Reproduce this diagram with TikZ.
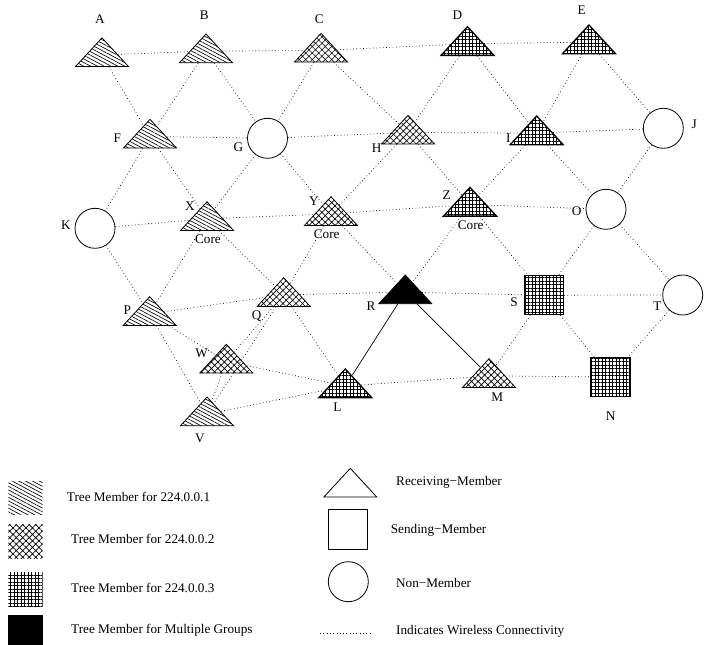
\documentclass[tikz,border=0pt]{standalone}
\usepackage{fontspec}
\setmainfont{Liberation Serif}
\usepackage{tikz}
\usetikzlibrary{shapes.geometric, patterns.meta}

\begin{document}
\begin{tikzpicture}[x=1pt, y=-1pt,
    every node/.style={font=\fontsize{13.2}{15}\selectfont},
    rcv/.style={draw, line width=0.8pt, isosceles triangle, isosceles triangle stretches,
      shape border rotate=90, minimum width=53pt, minimum height=28.7pt, inner sep=0pt, anchor=apex},
    snd/.style={draw, line width=0.8pt, rectangle, minimum size=39pt, inner sep=0pt},
    non/.style={draw, line width=0.8pt, circle, minimum size=40pt, inner sep=0pt},
    grp1/.style={pattern={Lines[angle=-28,distance=3.2pt,line width=0.65pt]}},
    grp2/.style={pattern={Hatch[angle=45,distance=4.6pt,line width=0.65pt]}},
    grp3/.style={pattern={Hatch[angle=0,distance=3.5pt,line width=0.75pt]}, line width=1.3pt},
    grpall/.style={fill=black},
    wl/.style={dash pattern=on 0.7pt off 2.6pt, line width=0.7pt},
    lbl/.style={inner sep=0pt}]
    \useasboundingbox (0,0) rectangle (713,645);

    % receiving members (apex given)
    \node[rcv, grp1] (A) at (102,37) {};
    \node[rcv, grp1] (B) at (206,33) {};
    \node[rcv, grp2] (C) at (321,32.5) {};
    \node[rcv, grp3] (D) at (467.5,25) {};
    \node[rcv, grp3] (E) at (589,23.3) {};
    \node[rcv, grp1] (F) at (150,118.3) {};
    \node[rcv, grp2] (H) at (408,114.3) {};
    \node[rcv, grp3] (I) at (536.7,114.3) {};
    \node[rcv, grp1] (X) at (207,200.7) {};
    \node[rcv, grp2] (Y) at (331,195.7) {};
    \node[rcv, grp3] (Z) at (470,185.7) {};
    \node[rcv, grp1] (P) at (149.7,295.7) {};
    \node[rcv, grp2] (Q) at (283.7,276.7) {};
    \node[rcv, grpall] (R) at (405.3,274) {};
    \node[rcv, grp2] (W) at (226.3,343.3) {};
    \node[rcv, grp3] (L) at (345.3,367.3) {};
    \node[rcv, grp2] (M) at (489,357.7) {};
    \node[rcv, grp1] (V) at (207,396) {};

    % sending members and non-members
    \node[snd, grp3] (S) at (544,295.2) {};
    \node[snd, grp3] (N) at (610.5,377) {};
    \node[non] (G) at (267.5,138.3) {};
    \node[non] (J) at (663.3,128.3) {};
    \node[non] (K) at (95,228.3) {};
    \node[non] (O) at (606,209.3) {};
    \node[non] (T) at (682.7,295) {};

    % wireless links
    \draw[wl] (A) -- (B) (B) -- (C) (C) -- (D) (D) -- (E);
    \draw[wl] (A) -- (F) (B) -- (F) (B) -- (G) (C) -- (G) (C) -- (H);
    \draw[wl] (D) -- (H) (D) -- (I) (E) -- (I) (E) -- (J);
    \draw[wl] (F) -- (G) (G) -- (H) (H) -- (I) (I) -- (J);
    \draw[wl] (F) -- (K) (F) -- (X) (G) -- (X) (G) -- (Y) (H) -- (Y);
    \draw[wl] (H) -- (Z) (I) -- (Z) (I) -- (O) (J) -- (O);
    \draw[wl] (K) -- (X) (X) -- (Y) (Y) -- (Z) (Z) -- (O);
    \draw[wl] (K) -- (P) (X) -- (P) (X) -- (Q) (Y) -- (Q) (Y) -- (R);
    \draw[wl] (Z) -- (R) (Z) -- (S) (O) -- (S) (O) -- (T);
    \draw[wl] (P) -- (Q) (Q) -- (R) (R) -- (S) (S) -- (T);
    \draw[wl] (P) -- (W) (P) -- (V) (Q) -- (W) (Q) -- (V) (Q) -- (L);
    \draw[wl] (S) -- (M) (S) -- (N) (T) -- (N);
    \draw[wl] (W) -- (L) (W) -- (V) (V) -- (L) (L) -- (M) (M) -- (N);

    % tree links
    \draw[line width=0.7pt] (R) -- (L) (R) -- (M);

    % labels
    \node[lbl] (lA) at (100,19.3) {A};
    \node[lbl] (lB) at (204.3,15) {B};
    \node[lbl] (lC) at (319.3,19) {C};
    \node[lbl] (lD) at (457.3,15) {D};
    \node[lbl] (lE) at (581.7,10) {E};
    \node[lbl] (lF) at (117.3,138.3) {F};
    \node[lbl] (lG) at (238.3,146.7) {G};
    \node[lbl] (lH) at (376.7,147.7) {H};
    \node[lbl] (lI) at (508.3,138.3) {I};
    \node[lbl] (lJ) at (694.3,124) {J};
    \node[lbl] (lK) at (66,225) {K};
    \node[lbl] (lX) at (190,206) {X};
    \node[lbl] (lY) at (314,200.7) {Y};
    \node[lbl] (lZ) at (446.7,195) {Z};
    \node[lbl] (lO) at (576.7,210.7) {O};
    \node[lbl] (lP) at (127.3,310) {P};
    \node[lbl] (lQ) at (256.7,315.7) {Q};
    \node[lbl] (lR) at (371,306) {R};
    \node[lbl] (lS) at (514,301.7) {S};
    \node[lbl] (lT) at (657.3,306) {T};
    \node[lbl] (lW) at (201.7,353.3) {W};
    \node[lbl] (lL) at (337.3,406.7) {L};
    \node[lbl] (lM) at (497.3,396.7) {M};
    \node[lbl] (lN) at (610.7,415.7) {N};
    \node[lbl] (lV) at (200,438.3) {V};
    \node[lbl] (cX) at (208,239.3) {Core};
    \node[lbl] (cY) at (326.7,234) {Core};
    \node[lbl] (cZ) at (470.7,225) {Core};

    % legend
    \node[grp1, inner sep=0pt, minimum width=34.4pt, minimum height=33.3pt] (k1) at (25.5,498.3) {};
    \node[grp2, inner sep=0pt, minimum width=34.4pt, minimum height=34.3pt] (k2) at (25.5,541.2) {};
    \node[grp3, inner sep=0pt, minimum width=34.4pt, minimum height=34.4pt] (k3) at (25.5,589.5) {};
    \node[grpall, inner sep=0pt, minimum width=34.4pt, minimum height=34pt] (k4) at (25.5,632) {};
    \node[lbl, anchor=west] (t1) at (66.7,496.7) {Tree Member for 224.0.0.1};
    \node[lbl, anchor=west] (t2) at (71,539) {Tree Member for 224.0.0.2};
    \node[lbl, anchor=west] (t3) at (71,587.7) {Tree Member for 224.0.0.3};
    \node[lbl, anchor=west] (t4) at (71,630.7) {Tree Member for Multiple Groups};

    \node[rcv] (kt) at (350.3,467.3) {};
    \node[snd, minimum size=39.4pt] (ks) at (348,529.3) {};
    \node[non] (kc) at (348.3,581.7) {};
    \coordinate (w1) at (320,633.3);
    \coordinate (w2) at (371.7,633.3);
    \draw[wl] (w1) -- (w2);
    \node[lbl, anchor=west] (t5) at (396,482.7) {Receiving−Member};
    \node[lbl, anchor=west] (t6) at (390.7,530.7) {Sending−Member};
    \node[lbl, anchor=west] (t7) at (396,583.3) {Non−Member};
    \node[lbl, anchor=west] (t8) at (396,631.7) {Indicates Wireless Connectivity};
\end{tikzpicture}
\end{document}
